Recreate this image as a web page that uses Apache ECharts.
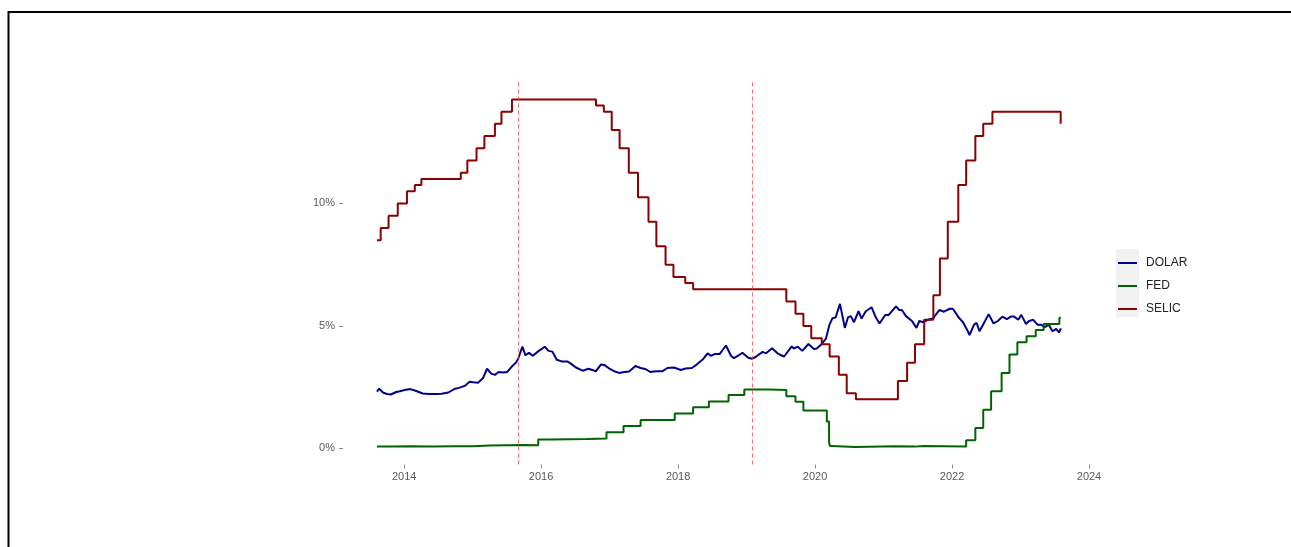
<!DOCTYPE html>
<html><head><meta charset="utf-8">
<script src="https://cdn.jsdelivr.net/npm/echarts@6/dist/echarts.min.js"></script>
<style>html,body{margin:0;padding:0;background:#fff}#c{width:1291px;height:547px}</style>
</head><body><div id="c"></div>
<script>
const seriesNames = ['DOLAR', 'FED', 'SELIC'];
const seriesColors = ['#00008B', '#006400', '#8B0000'];

const dolarDates = ['2013-08-09','2013-08-21','2013-09-10','2013-10-01','2013-10-22','2013-11-20','2013-12-10','2014-01-03','2014-02-03','2014-03-03','2014-04-10','2014-05-15','2014-06-20','2014-07-20','2014-08-25','2014-09-25','2014-10-20','2014-11-20','2014-12-16','2015-01-05','2015-01-30','2015-02-25','2015-03-19','2015-04-10','2015-04-30','2015-05-20','2015-06-15','2015-07-05','2015-07-28','2015-08-20','2015-09-01','2015-09-23','2015-10-10','2015-10-28','2015-11-18','2015-12-15','2016-01-21','2016-02-10','2016-03-01','2016-03-25','2016-04-20','2016-05-20','2016-06-10','2016-07-05','2016-08-10','2016-09-10','2016-10-20','2016-11-15','2016-12-05','2016-12-28','2017-01-25','2017-02-20','2017-03-20','2017-04-15','2017-05-18','2017-06-15','2017-07-10','2017-08-05','2017-09-05','2017-10-10','2017-11-05','2017-12-10','2018-01-15','2018-02-10','2018-03-15','2018-04-10','2018-05-15','2018-06-07','2018-06-25','2018-07-15','2018-08-10','2018-09-13','2018-10-10','2018-10-25','2018-11-20','2018-12-10','2019-01-10','2019-01-31','2019-02-20','2019-03-27','2019-04-15','2019-05-17','2019-06-15','2019-07-05','2019-07-20','2019-08-30','2019-09-10','2019-10-01','2019-10-25','2019-11-27','2019-12-26','2020-01-10','2020-02-05','2020-02-28','2020-03-18','2020-04-02','2020-04-20','2020-05-13','2020-06-08','2020-06-25','2020-07-10','2020-07-27','2020-08-20','2020-09-05','2020-09-28','2020-10-29','2020-11-20','2020-12-10','2021-01-10','2021-01-28','2021-03-08','2021-03-25','2021-04-08','2021-04-30','2021-06-01','2021-06-25','2021-07-10','2021-08-01','2021-08-25','2021-09-20','2021-10-05','2021-10-26','2021-11-18','2021-12-20','2022-01-05','2022-02-05','2022-02-28','2022-03-28','2022-04-04','2022-04-28','2022-05-12','2022-05-27','2022-06-15','2022-07-15','2022-08-10','2022-09-02','2022-09-26','2022-10-20','2022-11-10','2022-11-28','2022-12-20','2023-01-05','2023-01-30','2023-02-15','2023-03-10','2023-04-01','2023-04-20','2023-05-10','2023-06-01','2023-06-20','2023-07-10','2023-07-25','2023-08-04'];
const dolarValues = [2.32,2.44,2.28,2.22,2.20,2.30,2.33,2.38,2.42,2.35,2.24,2.22,2.22,2.23,2.28,2.42,2.47,2.55,2.72,2.70,2.68,2.86,3.25,3.05,3.00,3.12,3.10,3.12,3.33,3.50,3.65,4.15,3.80,3.90,3.78,3.95,4.15,3.98,3.95,3.62,3.55,3.55,3.45,3.30,3.17,3.25,3.15,3.42,3.40,3.27,3.15,3.08,3.12,3.14,3.36,3.28,3.24,3.12,3.15,3.15,3.28,3.30,3.20,3.26,3.28,3.42,3.65,3.88,3.78,3.85,3.85,4.20,3.78,3.68,3.80,3.90,3.70,3.66,3.74,3.94,3.88,4.09,3.88,3.80,3.75,4.16,4.08,4.15,3.98,4.26,4.06,4.08,4.25,4.48,5.05,5.30,5.35,5.90,4.92,5.35,5.40,5.15,5.60,5.30,5.60,5.76,5.35,5.10,5.45,5.45,5.80,5.65,5.65,5.40,5.20,4.92,5.20,5.15,5.25,5.30,5.45,5.65,5.58,5.70,5.70,5.35,5.15,4.75,4.62,5.05,5.12,4.78,5.05,5.48,5.10,5.20,5.38,5.28,5.38,5.38,5.25,5.45,5.08,5.20,5.25,5.05,5.05,4.95,5.05,4.78,4.88,4.73,4.90];

const fedDates = ['2013-08-09','2013-11-01','2014-02-01','2014-06-01','2014-10-01','2015-01-01','2015-04-01','2015-07-01','2015-10-01','2015-12-17','2016-03-01','2016-06-01','2016-09-01','2016-12-15','2017-03-16','2017-06-15','2017-12-14','2018-03-22','2018-06-14','2018-09-27','2018-12-20','2019-05-01','2019-08-01','2019-09-19','2019-10-31','2020-03-04','2020-03-16','2020-03-20','2020-04-01','2020-08-01','2021-03-01','2021-06-17','2021-08-01','2022-03-17','2022-05-05','2022-06-16','2022-07-28','2022-09-22','2022-11-03','2022-12-15','2023-02-02','2023-03-23','2023-05-04','2023-07-27','2023-08-04'];
const fedValues = [0.08,0.09,0.07,0.09,0.09,0.12,0.13,0.14,0.13,0.36,0.37,0.38,0.40,0.66,0.91,1.16,1.42,1.68,1.91,2.18,2.40,2.38,2.13,1.90,1.55,1.10,0.25,0.10,0.05,0.09,0.07,0.10,0.08,0.33,0.83,1.58,2.33,3.08,3.83,4.33,4.58,4.83,5.08,5.33,5.33];

const selicDates = ['2013-08-09','2013-08-29','2013-10-10','2013-11-28','2014-01-16','2014-02-27','2014-04-03','2014-10-30','2014-12-04','2015-01-22','2015-03-05','2015-04-30','2015-06-04','2015-07-30','2016-10-20','2016-12-01','2017-01-12','2017-02-23','2017-04-13','2017-06-01','2017-07-27','2017-09-07','2017-10-26','2017-12-07','2018-02-08','2018-03-22','2019-08-01','2019-09-19','2019-10-31','2019-12-12','2020-02-06','2020-03-19','2020-05-07','2020-06-18','2020-08-06','2021-03-18','2021-05-06','2021-06-17','2021-08-05','2021-09-23','2021-10-28','2021-12-09','2022-02-03','2022-03-17','2022-05-05','2022-06-16','2022-08-04','2023-08-03','2023-08-04'];
const selicValues = [8.5,9.0,9.5,10.0,10.5,10.75,11.0,11.25,11.75,12.25,12.75,13.25,13.75,14.25,14.0,13.75,13.0,12.25,11.25,10.25,9.25,8.25,7.5,7.0,6.75,6.5,6.0,5.5,5.0,4.5,4.25,3.75,3.0,2.25,2.0,2.75,3.5,4.25,5.25,6.25,7.75,9.25,10.75,11.75,12.75,13.25,13.75,13.25,13.25];

const vlineDates = ['2015-09-01', '2019-02-01'];
const xTickYears = [2014, 2016, 2018, 2020, 2022, 2024];
const yTickValues = [0, 5, 10];

const xMin = '2013-02-09', xMax = '2024-02-02';
const yMin = -0.66, yMax = 14.96;

function ts(s) { const p = s.split('-').map(Number); return Date.UTC(p[0], p[1] - 1, p[2]); }
function pairs(ds, vs) { return ds.map((d, i) => [ts(d), vs[i]]); }
const xTicks = xTickYears.map(y => Date.UTC(y, 0, 1));

const chart = echarts.init(document.getElementById('c'), null, {renderer: 'canvas'});
const font = '"Liberation Sans", Arial, sans-serif';
const lineW = 2;

chart.setOption({
  backgroundColor: '#ffffff',
  animation: false,
  graphic: [
    {type: 'rect', z: -10, silent: true, shape: {x: 8.5, y: 12, width: 1400, height: 700}, style: {fill: 'none', stroke: '#000', lineWidth: 2}},
    {type: 'rect', z: -5, silent: true, shape: {x: 1116, y: 249, width: 23, height: 68}, style: {fill: '#F2F2F2'}}
  ],
  grid: {left: 343, top: 82, width: 752, height: 382.5, containLabel: false, show: false},
  legend: {
    orient: 'vertical', left: 1118, top: 256,
    itemWidth: 19, itemHeight: 2, itemGap: 9,
    icon: 'rect',
    data: seriesNames,
    textStyle: {fontFamily: font, fontSize: 12, color: '#222', lineHeight: 14, padding: [0, 0, 0, 4]},
    padding: 0
  },
  xAxis: {
    type: 'value', min: ts(xMin), max: ts(xMax), scale: true,
    axisLine: {show: false, onZero: false},
    splitLine: {show: false},
    axisTick: {show: true, length: 4, customValues: xTicks, lineStyle: {color: '#8a8a8a', width: 1}},
    axisLabel: {customValues: xTicks, margin: 7, fontFamily: font, fontSize: 11, color: '#595959',
      formatter: v => String(new Date(v).getUTCFullYear())}
  },
  yAxis: {
    type: 'value', min: yMin, max: yMax,
    axisLine: {show: false, onZero: false},
    splitLine: {show: false},
    axisTick: {show: true, length: 4, customValues: yTickValues, lineStyle: {color: '#8a8a8a', width: 1}},
    axisLabel: {customValues: yTickValues, margin: 8, fontFamily: font, fontSize: 11, color: '#595959',
      formatter: v => v + '%'}
  },
  series: [
    {name: 'DOLAR', type: 'line', data: pairs(dolarDates, dolarValues), showSymbol: false, symbol: 'none',
      lineStyle: {color: seriesColors[0], width: lineW}, itemStyle: {color: seriesColors[0]}},
    {name: 'FED', type: 'line', step: 'end', data: pairs(fedDates, fedValues), showSymbol: false, symbol: 'none',
      lineStyle: {color: seriesColors[1], width: lineW}, itemStyle: {color: seriesColors[1]}},
    {name: 'SELIC', type: 'line', step: 'end', data: pairs(selicDates, selicValues), showSymbol: false, symbol: 'none',
      lineStyle: {color: seriesColors[2], width: lineW}, itemStyle: {color: seriesColors[2]},
      markLine: {silent: true, symbol: 'none', label: {show: false},
        lineStyle: {color: 'rgba(255,60,60,0.75)', width: 1, type: [4, 3]},
        data: vlineDates.map(d => ({xAxis: ts(d)}))}}
  ]
});
</script></body></html>
